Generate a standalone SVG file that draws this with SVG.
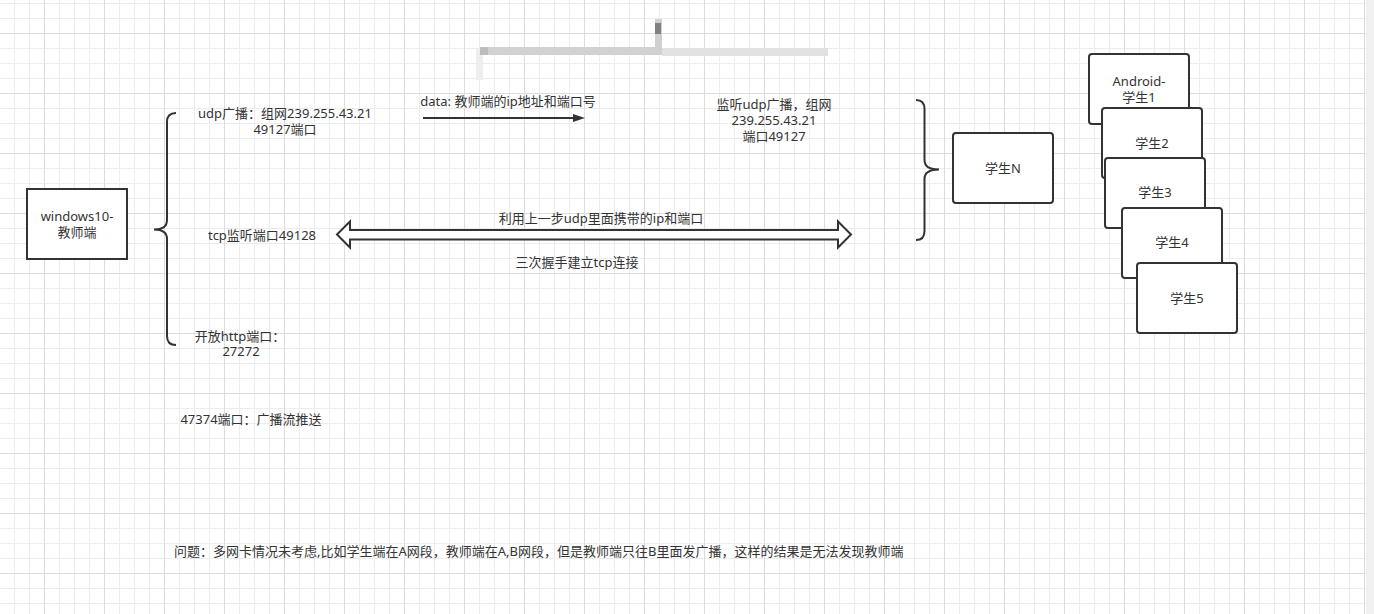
<svg xmlns="http://www.w3.org/2000/svg" width="1374" height="614" viewBox="0 0 1374 614">
  <style>
    .t { font-family: "Noto Sans", "Noto Sans CJK SC", sans-serif; font-size: 13px; fill: #333333; text-anchor: middle; }
    .ts { text-anchor: start; }
    .box { fill: #ffffff; stroke: #333333; stroke-width: 2; }
    .brace { fill: none; stroke: #333333; stroke-width: 2; }
    .conn { fill: none; stroke: #333333; stroke-width: 2; }
  </style>
  <defs>
    <pattern id="minor" patternUnits="userSpaceOnUse" x="14" y="3" width="15" height="15">
      <rect x="0" y="0" width="15" height="1" fill="#ececec"/>
      <rect x="0" y="0" width="1" height="15" fill="#ececec"/>
    </pattern>
    <pattern id="major" patternUnits="userSpaceOnUse" x="44" y="33" width="60" height="60">
      <rect x="0" y="0" width="60" height="1" fill="#dcdcdc"/>
      <rect x="0" y="0" width="1" height="60" fill="#dcdcdc"/>
    </pattern>
    <marker id="head" markerUnits="userSpaceOnUse" viewBox="0 0 12 8" refX="0" refY="4" markerWidth="12" markerHeight="8" orient="auto">
      <path d="M0,0 L12,4 L0,8 Z" fill="#333333"/>
    </marker>
  </defs>

  <!-- background & grid -->
  <rect x="0" y="0" width="1374" height="614" fill="#ffffff"/>
  <rect x="0" y="0" width="1366" height="614" fill="url(#minor)"/>
  <rect x="0" y="0" width="1366" height="614" fill="url(#major)"/>
  <rect x="1366" y="0" width="8" height="614" fill="#f0f0f0"/>

  <!-- smudge at the top -->
  <g id="smudge">
    <rect x="476" y="48" width="7" height="32" fill="#eeeeee"/>
    <rect x="480" y="47" width="177" height="8" fill="#d2d2d2"/>
    <rect x="480" y="47" width="8" height="8" fill="#bdbdbd"/>
    <rect x="655" y="19" width="7" height="36" fill="#d0d0d0"/>
    <rect x="655" y="23" width="6" height="11" fill="#808080"/>
    <rect x="662" y="48" width="166" height="8" fill="#e2e2e2"/>
  </g>

  <!-- connectors -->
  <g id="connectors">
    <path class="brace" d="M176,113 Q167,113 167,122 L167,220 Q167,229.5 154,229.5 Q167,229.5 167,239 L167,336 Q167,345 176,345"/>
    <path class="brace" d="M916,100 Q924.5,100 924.5,109 L924.5,160 Q924.5,169.5 939,169.5 Q924.5,169.5 924.5,179 L924.5,231 Q924.5,240 916,240"/>
    <line class="conn" x1="423" y1="118" x2="573" y2="118" marker-end="url(#head)"/>
    <path class="conn" style="fill:#ffffff" d="M337,234.5 L350,221.5 L350,230 L838,230 L838,221.5 L851,234.5 L838,247.5 L838,239.5 L350,239.5 L350,247.5 Z"/>
  </g>

  <!-- labels -->
  <g id="labels">
    <text class="t" x="285" y="118">udp广播：组网239.255.43.21</text>
    <text class="t" x="285" y="134">49127端口</text>
    <text class="t" x="508" y="105.5">data: 教师端的ip地址和端口号</text>
    <text class="t" x="774" y="109">监听udp广播，组网</text>
    <text class="t" x="774" y="125">239.255.43.21</text>
    <text class="t" x="774" y="141">端口49127</text>
    <text class="t" x="601" y="223">利用上一步udp里面携带的ip和端口</text>
    <text class="t" x="577" y="267">三次握手建立tcp连接</text>
    <text class="t" x="262" y="240">tcp监听端口49128</text>
    <text class="t" x="240" y="340.5">开放http端口：</text>
    <text class="t" x="241" y="356">27272</text>
    <text class="t" x="251" y="424">47374端口：广播流推送</text>
    <text class="t ts" x="174" y="555.5">问题：多网卡情况未考虑,比如学生端在A网段，教师端在A,B网段，但是教师端只往B里面发广播，这样的结果是无法发现教师端</text>
  </g>

  <!-- nodes -->
  <g id="teacher">
    <rect class="box" x="27" y="189" width="100" height="70"/>
    <text class="t" x="77" y="221">windows10-</text>
    <text class="t" x="77" y="237">教师端</text>
  </g>
  <g id="studentN">
    <rect class="box" x="953" y="133" width="100" height="70" rx="3"/>
    <text class="t" x="1003" y="173">学生N</text>
  </g>
  <g id="student1">
    <rect class="box" x="1089" y="54" width="100" height="70" rx="3"/>
    <text class="t" x="1139" y="86">Android-</text>
    <text class="t" x="1139" y="102">学生1</text>
  </g>
  <g id="student2">
    <rect class="box" x="1102" y="108" width="100" height="70" rx="3"/>
    <text class="t" x="1152" y="148">学生2</text>
  </g>
  <g id="student3">
    <rect class="box" x="1105" y="158" width="100" height="70" rx="3"/>
    <text class="t" x="1155" y="197">学生3</text>
  </g>
  <g id="student4">
    <rect class="box" x="1122" y="208" width="100" height="70" rx="3"/>
    <text class="t" x="1172" y="247">学生4</text>
  </g>
  <g id="student5">
    <rect class="box" x="1137" y="263" width="100" height="70" rx="3"/>
    <text class="t" x="1187" y="303">学生5</text>
  </g>
</svg>
